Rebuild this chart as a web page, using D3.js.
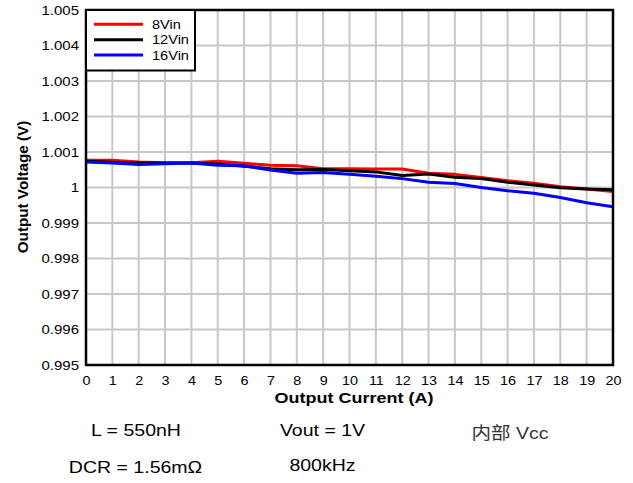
<!DOCTYPE html>
<html>
<head>
<meta charset="utf-8">
<script src="https://cdn.jsdelivr.net/npm/d3@7"></script>
<style>
    body { margin: 0; background: #fff; }
    text { font-family: "Liberation Sans", Arial, sans-serif; fill: #000; }
</style>
</head>
<body>
<script>
    //chart data
    var currents = [0, 1, 2, 3, 4, 5, 6, 7, 8, 9, 10, 11, 12, 13, 14, 15, 16, 17, 18, 19, 20];
    var vin8 = [1.00077, 1.00077, 1.00072, 1.00070, 1.00070, 1.00074, 1.00068, 1.00063, 1.00061, 1.00053, 1.00053,
                1.00052, 1.00052, 1.00040, 1.00037, 1.00028, 1.00019, 1.00012, 1.00002, 0.99996, 0.99989];
    var vin12 = [1.00074, 1.00071, 1.00069, 1.00069, 1.00069, 1.00066, 1.00060, 1.00053, 1.00050, 1.00051, 1.00047,
                 1.00044, 1.00034, 1.00038, 1.00029, 1.00025, 1.00015, 1.00007, 0.99999, 0.99996, 0.99994];
    var vin16 = [1.00072, 1.00069, 1.00065, 1.00067, 1.00069, 1.00063, 1.00061, 1.00049, 1.00040, 1.00042, 1.00037,
                 1.00032, 1.00025, 1.00015, 1.00011, 1.00000, 0.99991, 0.99984, 0.99972, 0.99957, 0.99946];
    var seriesNames = ["8Vin", "12Vin", "16Vin"];
    var seriesColors = ["#ff0000", "#000000", "#0000ff"];
    var yTicks = [0.995, 0.996, 0.997, 0.998, 0.999, 1, 1.001, 1.002, 1.003, 1.004, 1.005];
    var yTickLabels = ["0.995", "0.996", "0.997", "0.998", "0.999", "1", "1.001", "1.002", "1.003", "1.004", "1.005"];
    var xTicks = [0, 1, 2, 3, 4, 5, 6, 7, 8, 9, 10, 11, 12, 13, 14, 15, 16, 17, 18, 19, 20];
    var notes = ["L = 550nH", "Vout = 1V", "内部 Vcc", "DCR = 1.56mΩ", "800kHz"];

    var stretch = 1.2; //text in the reference is stretched sideways

    window.onload = setChart();

    function setChart(){
        var width = 633,
            height = 483,
            left = 86,
            right = 613,
            top = 10,
            bottom = 365;

        var svg = d3.select("body")
            .append("svg")
            .attr("width", width)
            .attr("height", height);

        var x = d3.scaleLinear()
            .domain([0, 20])
            .range([left, right]);

        var y = d3.scaleLinear()
            .domain([0.995, 1.005])
            .range([bottom, top]);

        //grid lines
        svg.append("g")
            .selectAll("line")
            .data(xTicks.slice(1, -1))
            .enter()
            .append("line")
            .attr("x1", function(d){ return x(d); })
            .attr("x2", function(d){ return x(d); })
            .attr("y1", top)
            .attr("y2", bottom)
            .attr("stroke", "#c8c8c8")
            .attr("stroke-width", 2);

        svg.append("g")
            .selectAll("line")
            .data(yTicks.slice(1, -1))
            .enter()
            .append("line")
            .attr("x1", left)
            .attr("x2", right)
            .attr("y1", function(d){ return y(d); })
            .attr("y2", function(d){ return y(d); })
            .attr("stroke", "#c8c8c8")
            .attr("stroke-width", 2);

        //axes
        var xAxis = svg.append("g")
            .attr("transform", "translate(0," + bottom + ")")
            .call(d3.axisBottom(x).tickValues(xTicks).tickSize(0).tickPadding(11));
        xAxis.select(".domain").remove();
        xAxis.selectAll("text")
            .attr("font-size", 12)
            .attr("font-family", null)
            .attr("transform", "scale(" + stretch + ",1)");

        var yAxis = svg.append("g")
            .attr("transform", "translate(" + left + ",0)")
            .call(d3.axisLeft(y).tickValues(yTicks).tickSize(0)
                .tickFormat(function(d, i){ return yTickLabels[i]; }));
        yAxis.select(".domain").remove();
        yAxis.selectAll("text")
            .attr("font-size", 12.5)
            .attr("font-family", null)
            .attr("x", -7 / stretch)
            .attr("transform", "scale(" + stretch + ",1)");

        //data lines
        var line = d3.line()
            .x(function(d, i){ return x(currents[i]); })
            .y(function(d){ return y(d); });

        var allSeries = [vin8, vin12, vin16];
        svg.append("g")
            .selectAll("path")
            .data(allSeries)
            .enter()
            .append("path")
            .attr("d", line)
            .attr("fill", "none")
            .attr("stroke", function(d, i){ return seriesColors[i]; })
            .attr("stroke-width", 3)
            .attr("stroke-linejoin", "round");

        //plot frame
        svg.append("rect")
            .attr("x", left)
            .attr("y", top)
            .attr("width", right - left)
            .attr("height", bottom - top)
            .attr("fill", "none")
            .attr("stroke", "#000")
            .attr("stroke-width", 2.5);

        //legend
        var legend = svg.append("g");
        legend.append("rect")
            .attr("x", left)
            .attr("y", top)
            .attr("width", 109)
            .attr("height", 60.5)
            .attr("fill", "#fff")
            .attr("stroke", "#000")
            .attr("stroke-width", 2);

        var rows = legend.selectAll(".row")
            .data(seriesNames)
            .enter()
            .append("g")
            .attr("transform", function(d, i){ return "translate(0," + (24.3 + i * 15.4) + ")"; });
        rows.append("line")
            .attr("x1", 94)
            .attr("x2", 143)
            .attr("stroke", function(d, i){ return seriesColors[i]; })
            .attr("stroke-width", 3);
        rows.append("text")
            .attr("transform", "translate(152,4.6) scale(1.12,1)")
            .attr("font-size", 13)
            .text(function(d){ return d; });

        //axis titles
        svg.append("text")
            .attr("transform", "translate(354,403) scale(" + stretch + ",1)")
            .attr("text-anchor", "middle")
            .attr("font-size", 15)
            .attr("font-weight", "bold")
            .text("Output Current (A)");

        svg.append("text")
            .attr("transform", "translate(28,187) rotate(-90) scale(1.05,1)")
            .attr("text-anchor", "middle")
            .attr("font-size", 14.5)
            .attr("font-weight", "bold")
            .text("Output Voltage (V)");

        //condition notes under the chart
        var notePos = [[136, 436], [322.5, 436], [510, 439], [135.5, 472.5], [322.5, 471]];
        svg.append("g")
            .selectAll("text")
            .data(notes)
            .enter()
            .append("text")
            .attr("transform", function(d, i){
                return "translate(" + notePos[i][0] + "," + notePos[i][1] + ") scale(1.15,1)";
            })
            .attr("text-anchor", "middle")
            .attr("font-size", 17)
            .style("font-family", function(d, i){
                return i == 2 ? "'Liberation Sans', 'Noto Sans CJK SC', sans-serif" : null;
            })
            .style("fill", function(d, i){ return i == 2 ? "#333" : "#000"; })
            .text(function(d){ return d; });
    };
</script>
</body>
</html>
